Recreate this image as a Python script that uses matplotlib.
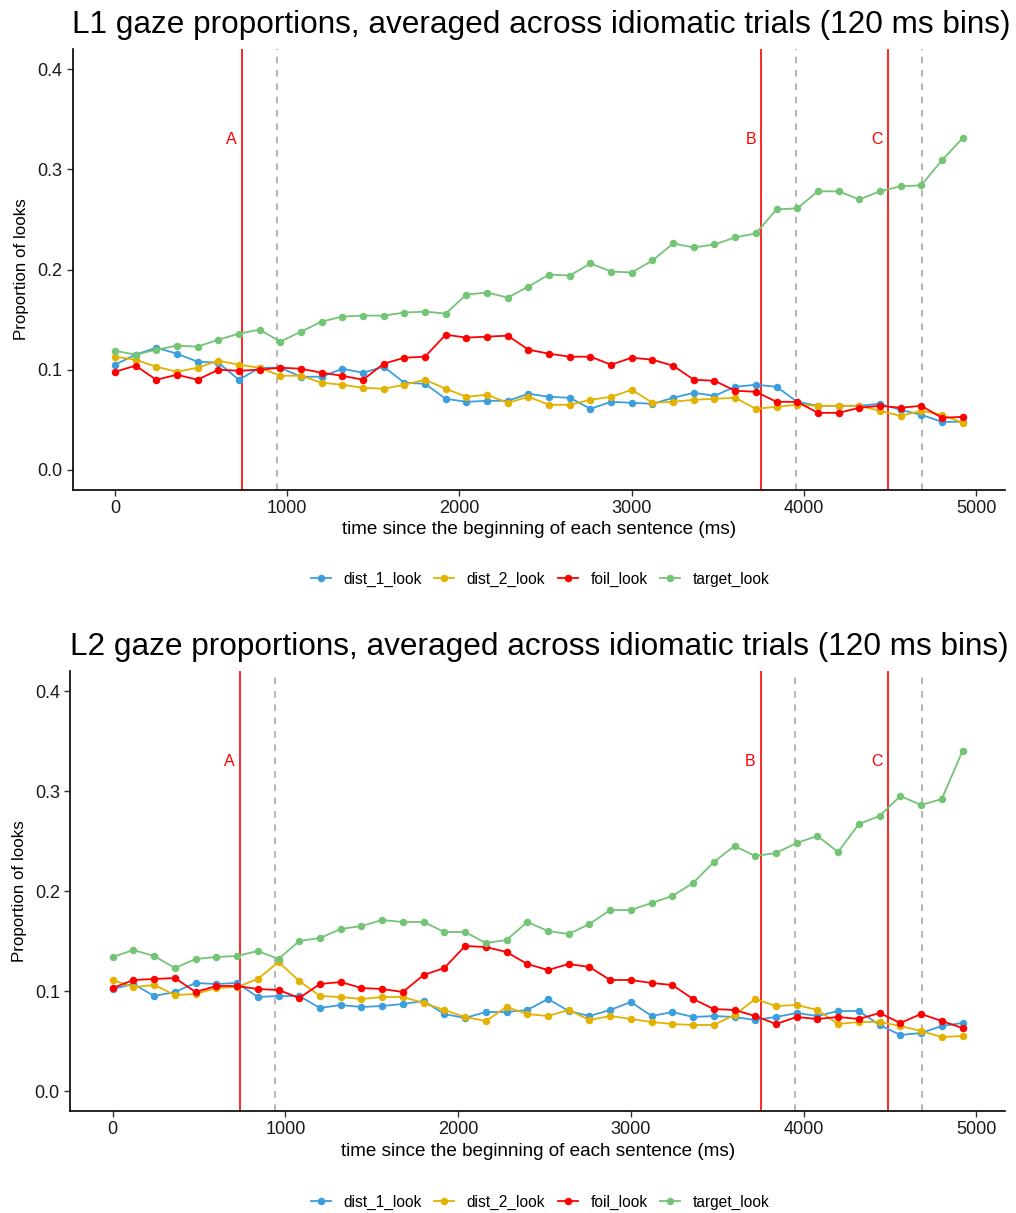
import matplotlib
matplotlib.use("Agg")
import matplotlib.pyplot as plt
from matplotlib.lines import Line2D

plt.rcParams['font.family'] = ['Liberation Sans', 'DejaVu Sans']

# Bin onsets (ms)
time_ms = list(range(0, 4921, 120))

# L1 group: mean proportion of looks per bin
l1_dist_1 = [0.105, 0.115, 0.122, 0.116, 0.108, 0.107, 0.090, 0.102, 0.102, 0.093,
             0.093, 0.101, 0.097, 0.103, 0.087, 0.086, 0.071, 0.068, 0.069, 0.069,
             0.076, 0.073, 0.072, 0.061, 0.068, 0.067, 0.066, 0.072, 0.077, 0.074,
             0.083, 0.085, 0.083, 0.068, 0.064, 0.064, 0.064, 0.066, 0.060, 0.055,
             0.048, 0.048]
l1_dist_2 = [0.113, 0.110, 0.103, 0.098, 0.102, 0.109, 0.105, 0.102, 0.094, 0.094,
             0.087, 0.085, 0.082, 0.081, 0.085, 0.090, 0.081, 0.073, 0.075, 0.067,
             0.073, 0.065, 0.065, 0.070, 0.073, 0.080, 0.067, 0.068, 0.070, 0.071,
             0.072, 0.061, 0.063, 0.065, 0.064, 0.064, 0.064, 0.059, 0.054, 0.059,
             0.055, 0.047]
l1_foil = [0.098, 0.104, 0.090, 0.095, 0.090, 0.100, 0.099, 0.100, 0.102, 0.101,
           0.097, 0.094, 0.090, 0.106, 0.112, 0.113, 0.135, 0.132, 0.133, 0.134,
           0.120, 0.116, 0.113, 0.113, 0.105, 0.112, 0.110, 0.104, 0.090, 0.089,
           0.079, 0.078, 0.068, 0.068, 0.057, 0.057, 0.062, 0.064, 0.062, 0.064,
           0.052, 0.053]
l1_target = [0.119, 0.115, 0.120, 0.124, 0.123, 0.130, 0.136, 0.140, 0.128, 0.138,
             0.148, 0.153, 0.154, 0.154, 0.157, 0.158, 0.156, 0.175, 0.177, 0.172,
             0.183, 0.195, 0.194, 0.206, 0.198, 0.197, 0.209, 0.226, 0.222, 0.225,
             0.232, 0.236, 0.260, 0.261, 0.278, 0.278, 0.270, 0.278, 0.283, 0.284,
             0.309, 0.331]

# L2 group: mean proportion of looks per bin
l2_dist_1 = [0.102, 0.107, 0.095, 0.099, 0.108, 0.107, 0.108, 0.094, 0.095, 0.095,
             0.083, 0.086, 0.084, 0.085, 0.087, 0.090, 0.077, 0.073, 0.079, 0.079,
             0.081, 0.092, 0.080, 0.075, 0.081, 0.089, 0.075, 0.079, 0.074, 0.075,
             0.074, 0.071, 0.074, 0.078, 0.075, 0.080, 0.080, 0.066, 0.056, 0.058,
             0.065, 0.068]
l2_dist_2 = [0.111, 0.104, 0.106, 0.096, 0.097, 0.103, 0.104, 0.112, 0.129, 0.110,
             0.095, 0.094, 0.092, 0.094, 0.094, 0.088, 0.081, 0.074, 0.070, 0.084,
             0.077, 0.075, 0.081, 0.071, 0.075, 0.072, 0.069, 0.067, 0.066, 0.066,
             0.076, 0.092, 0.085, 0.086, 0.081, 0.067, 0.069, 0.069, 0.065, 0.060,
             0.054, 0.055]
l2_foil = [0.103, 0.111, 0.112, 0.113, 0.099, 0.105, 0.105, 0.102, 0.101, 0.093,
           0.107, 0.109, 0.103, 0.102, 0.099, 0.116, 0.123, 0.145, 0.144, 0.139,
           0.127, 0.121, 0.127, 0.124, 0.111, 0.111, 0.108, 0.106, 0.092, 0.082,
           0.081, 0.075, 0.067, 0.074, 0.072, 0.074, 0.072, 0.078, 0.068, 0.077,
           0.070, 0.063]
l2_target = [0.134, 0.141, 0.135, 0.123, 0.132, 0.134, 0.135, 0.140, 0.132, 0.150,
             0.153, 0.162, 0.165, 0.171, 0.169, 0.169, 0.159, 0.159, 0.148, 0.151,
             0.169, 0.160, 0.157, 0.167, 0.181, 0.181, 0.188, 0.195, 0.208, 0.229,
             0.245, 0.235, 0.238, 0.248, 0.255, 0.239, 0.267, 0.275, 0.295, 0.286,
             0.292, 0.340]

series_names = ['dist_1_look', 'dist_2_look', 'foil_look', 'target_look']
series_colors = ['#3C9EDC', '#E3B100', '#FF0000', '#74C476']

# Word onsets (solid) and onset + 200 ms (dashed)
onset_labels = ['A', 'B', 'C']
onset_ms = [738, 3752, 4486]
shift_ms = 200

panels = [
    ("L1 gaze proportions, averaged across idiomatic trials (120 ms bins)",
     [l1_dist_1, l1_dist_2, l1_foil, l1_target]),
    ("L2 gaze proportions, averaged across idiomatic trials (120 ms bins)",
     [l2_dist_1, l2_dist_2, l2_foil, l2_target]),
]

W, H = 1016, 1213
fig = plt.figure(figsize=(W / 100, H / 100), dpi=100)

# pixel boxes: left, right, top, bottom
boxes = [(72.5, 1005.0, 49.0, 490.0), (70.2, 1005.0, 671.0, 1111.0)]
title_base = [33, 655]
xlabel_y = [529, 1151]
legend_y = [579, 1202]
ylabel_x = [22, 20]

for (title, ys), (l, r, t, b), ty, xly, lgy, ylx in zip(panels, boxes, title_base, xlabel_y, legend_y, ylabel_x):
    ax = fig.add_axes([l / W, 1 - b / H, (r - l) / W, (b - t) / H])
    for vals, c in zip(ys, series_colors):
        ax.plot(time_ms, vals, color=c, lw=1.3, marker='o', ms=5.4, mew=0, zorder=3)
    for lab, on in zip(onset_labels, onset_ms):
        ax.axvline(on, color='#FF0000', lw=1.2, zorder=2)
        ax.axvline(on + shift_ms, color='#A8A8A8', lw=1.2, ls=(0, (4, 4)), zorder=2)
        ax.text(on - 62, 0.33, lab, color='#FF0000', fontsize=11.5, ha='center', va='center')
    ax.set_xlim(-246, 5166)
    ax.set_ylim(-0.02, 0.42)
    ax.set_xticks([0, 1000, 2000, 3000, 4000, 5000])
    ax.set_yticks([0.0, 0.1, 0.2, 0.3, 0.4])
    ax.set_yticklabels(['0.0', '0.1', '0.2', '0.3', '0.4'])
    for s in ['top', 'right']:
        ax.spines[s].set_visible(False)
    for s in ['left', 'bottom']:
        ax.spines[s].set_linewidth(1.2)
    ax.tick_params(axis='both', labelsize=13, width=1.0, length=4, color='#333333',
                   labelcolor='#1A1A1A')
    fig.text(l / W, 1 - ty / H, title, fontsize=22.7, ha='left', va='baseline', color='black')
    fig.text((l + r) / 2 / W, 1 - xly / H, 'time since the beginning of each sentence (ms)',
             fontsize=13.6, ha='center', va='center')
    fig.text(ylx / W, 1 - (t + b) / 2 / H, 'Proportion of looks', fontsize=12.2,
             rotation=90, ha='center', va='center')
    handles = [Line2D([], [], color=c, lw=1.3, marker='o', ms=5.4, mew=0) for c in series_colors]
    fig.legend(handles, series_names, loc='center', bbox_to_anchor=(540 / W, 1 - lgy / H),
               ncol=4, frameon=False, fontsize=11.2, handlelength=1.3, columnspacing=0.8,
               handletextpad=0.8)

fig.savefig('out.png', dpi=100)
